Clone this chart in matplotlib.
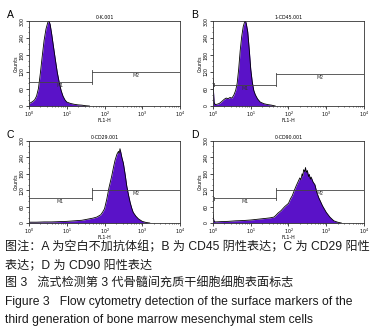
import numpy as np
import matplotlib
matplotlib.use("Agg")
import matplotlib.pyplot as plt
from matplotlib.ticker import FixedLocator, LogLocator, NullFormatter

# histogram channels: log10(FL1-H) and counts
a_dec = [0.00, 0.05, 0.10, 0.15, 0.20, 0.25, 0.30, 0.35, 0.40, 0.45, 0.50, 0.53, 0.56,
         0.60, 0.65, 0.70, 0.75, 0.80, 0.85, 0.90, 0.95, 1.00, 1.10, 1.20, 1.30, 1.40, 1.50, 1.60]
a_cnt = [8, 12, 16, 22, 35, 62, 115, 175, 232, 272, 296, 300, 288,
         255, 208, 162, 118, 84, 55, 35, 22, 14, 9, 6, 4, 3, 1, 0]

b_dec = [0.00, 0.01, 0.03, 0.06, 0.10, 0.15, 0.20, 0.25, 0.30, 0.35, 0.40, 0.45, 0.50, 0.55,
         0.60, 0.64, 0.68, 0.72, 0.76, 0.80, 0.84, 0.86, 0.88, 0.92, 0.96, 1.00, 1.04,
         1.08, 1.12, 1.18, 1.25, 1.35, 1.45, 1.55, 1.65]
b_cnt = [95, 60, 12, 5, 6, 8, 12, 18, 24, 28, 26, 30, 28, 38,
         55, 80, 130, 195, 245, 280, 298, 300, 292, 262, 200, 130, 85,
         55, 40, 25, 14, 8, 5, 3, 0]

c_dec = [0.00, 0.20, 0.40, 0.60, 0.80, 1.00, 1.20, 1.40, 1.55, 1.70, 1.80, 1.90, 1.95,
         2.00, 2.06, 2.12, 2.19, 2.24, 2.28, 2.33, 2.37, 2.39, 2.41, 2.43, 2.46, 2.50, 2.55, 2.59,
         2.64, 2.68, 2.72, 2.76, 2.83, 2.90, 3.00, 3.10, 3.20]
c_cnt = [3, 3, 4, 4, 5, 6, 8, 10, 14, 18, 22, 30, 40,
         52, 87, 130, 171, 205, 230, 252, 262, 255, 272, 260, 240, 219, 175, 135,
         100, 75, 55, 39, 25, 15, 6, 2, 0]

d_dec = [0.00, 0.01, 0.03, 0.06, 0.20, 0.40, 0.60, 0.80, 1.00, 1.20, 1.40, 1.52, 1.62,
         1.68, 1.72, 1.80, 1.90, 2.00, 2.05, 2.10, 2.15, 2.20, 2.25, 2.30, 2.33, 2.36, 2.38,
         2.40, 2.43, 2.45, 2.47, 2.50, 2.53, 2.55, 2.58, 2.60, 2.65, 2.70, 2.75,
         2.80, 2.90, 3.00, 3.10, 3.20, 3.30, 3.40]
d_cnt = [32, 18, 6, 4, 5, 6, 8, 9, 11, 14, 17, 19, 22,
         30, 36, 45, 60, 72, 88, 100, 118, 135, 150, 165, 158, 180, 172,
         195, 188, 203, 185, 192, 170, 178, 160, 168, 150, 140, 112,
         93, 63, 39, 21, 8, 3, 0]

panels = [
    ("A", "0-K.001", a_dec, a_cnt, (0.0, 1.67, 85), (1.67, 4.0, 120), False),
    ("B", "1-CD45.001", b_dec, b_cnt, (0.03, 1.67, 75), (1.67, 4.0, 112), True),
    ("C", "0-CD29.001", c_dec, c_cnt, (0.0, 1.67, 90), (1.67, 4.0, 122), False),
    ("D", "0-CD90.001", d_dec, d_cnt, (0.03, 1.67, 90), (1.67, 4.0, 122), True),
]

# axes boxes in pixels: left, top, right, bottom
boxes = [(29, 21, 180, 106), (213, 21, 364, 106), (29, 141, 180, 223), (213, 141, 364, 223)]

W, H = 374, 334
fig = plt.figure(figsize=(W / 100, H / 100), dpi=100)
fill_col = "#5a12c8"
tiny = 3.4

for (letter, title, dec, cnt, m1, m2, left_tick), (l, t, r, b) in zip(panels, boxes):
    ax = fig.add_axes([l / W, 1 - b / H, (r - l) / W, (b - t) / H])
    x = 10 ** np.array(dec)
    ax.fill_between(x, cnt, 0, color=fill_col, lw=0)
    ax.plot(x, cnt, color="black", lw=0.6)
    ax.set_xscale("log")
    ax.set_xlim(1, 1e4)
    ax.set_ylim(0, 300)

    # markers M1 / M2
    for (x0, x1, yy), name in [(m1, "M1"), (m2, "M2")]:
        ax.plot([10 ** x0, 10 ** x1], [yy, yy], color="#444444", lw=0.6)
        ax.text(10 ** ((x0 + x1) / 2), yy - 4, name, fontsize=tiny, color="#333333",
                ha="center", va="top")
    ax.plot([10 ** m1[1]] * 2, [m1[2] - 6, m2[2] + 6], color="#444444", lw=0.6)
    if left_tick:
        ax.plot([10 ** m1[0]] * 2, [m1[2] - 6, m1[2] + 6], color="#444444", lw=0.6)

    ax.set_yticks([0, 60, 120, 180, 240, 300])
    ax.yaxis.set_minor_locator(FixedLocator(np.arange(0, 301, 20)))
    ax.xaxis.set_major_locator(LogLocator(base=10, numticks=10))
    ax.xaxis.set_minor_locator(LogLocator(base=10, subs=np.arange(2, 10), numticks=10))
    ax.xaxis.set_minor_formatter(NullFormatter())
    ax.tick_params(labelsize=tiny, length=2, width=0.5, pad=1)
    ax.tick_params(axis="x", pad=0.5)
    ax.tick_params(which="minor", length=1, width=0.4)
    for lab in ax.get_yticklabels():
        lab.set_rotation(90)
        lab.set_va("center")
    ax.set_xlabel("FL1-H", fontsize=tiny, labelpad=-0.5)
    ax.set_ylabel("Counts", fontsize=tiny, labelpad=1)
    ax.set_title(title, fontsize=tiny, pad=1.5)
    for s in ax.spines.values():
        s.set_linewidth(0.6)
        s.set_color("#333333")
    fig.text((l - 22) / W, 1 - (t - 6) / H, letter, fontsize=7.5, ha="left", va="center",
             family="Liberation Sans")

fams = ["Liberation Sans", "Noto Sans CJK SC"]
captions = [
    (247.2, "图注：A 为空白不加抗体组；B 为 CD45 阴性表达；C 为 CD29 阳性"),
    (265.3, "表达；D 为 CD90 阳性表达"),
    (283.5, "图 3   流式检测第 3 代骨髓间充质干细胞细胞表面标志"),
    (301.7, "Figure 3   Flow cytometry detection of the surface markers of the"),
    (319.5, "third generation of bone marrow mesenchymal stem cells"),
]
for yy, txt in captions:
    fig.text(5 / W, 1 - yy / H, txt, fontsize=8.7, family=fams, ha="left", va="center",
             color="#1a1a1a")

fig.savefig("out.png", dpi=100)
